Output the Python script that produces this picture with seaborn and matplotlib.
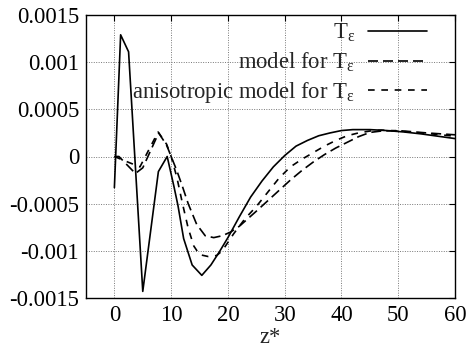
import matplotlib
matplotlib.use("Agg")
import matplotlib.pyplot as plt
import seaborn as sns
import numpy as np
from matplotlib.ticker import FixedLocator, FuncFormatter

# ---- data ----
z_T = [0, 1.1, 2.5, 5.0, 7.75, 9.3, 10.5, 11.2, 12.2, 13.7, 15.4, 17.0, 18.5, 20, 22, 24, 26, 28,
       30, 32, 34, 36, 38, 40, 42, 45, 48, 51, 54, 57, 60]
T_eps = [-0.33, 1.29, 1.11, -1.43, -0.16, 0.0, -0.32, -0.52, -0.87, -1.15, -1.26, -1.15, -1.01,
         -0.86, -0.64, -0.43, -0.26, -0.11, 0.01, 0.11, 0.17, 0.22, 0.25, 0.275, 0.285, 0.285,
         0.275, 0.26, 0.24, 0.215, 0.19]

z_M = [0, 0.8, 3.7, 5.0, 7.8, 9.2, 10, 11, 12, 13, 14.5, 16, 17.5, 19, 20.5, 22, 23.5, 25, 27,
       29, 31, 33, 35, 37, 39, 41, 43, 45, 47, 50, 55, 60]
model = [0, 0, -0.18, -0.12, 0.25, 0.12, 0.0, -0.15, -0.32, -0.50, -0.72, -0.84, -0.86, -0.84,
         -0.80, -0.74, -0.66, -0.58, -0.47, -0.36, -0.25, -0.15, -0.06, 0.02, 0.09, 0.15, 0.21,
         0.255, 0.27, 0.275, 0.25, 0.23]

z_A = [0, 2, 4.5, 7.7, 9.2, 10, 11, 12, 13, 14, 15, 16.5, 18, 19, 21, 23, 25, 27, 29, 31, 33,
       35, 37, 39, 41, 43, 45, 47, 50, 55, 60]
aniso = [0, -0.05, -0.11, 0.26, 0.13, 0.0, -0.22, -0.50, -0.76, -0.95, -1.04, -1.06, -1.05,
         -1.0, -0.82, -0.66, -0.53, -0.38, -0.23, -0.11, -0.03, 0.04, 0.11, 0.17, 0.22, 0.25,
         0.27, 0.28, 0.27, 0.245, 0.215]

labels = [r"$\mathrm{T_{ε}}$", r"model for $\mathrm{T_{ε}}$", r"anisotropic model for $\mathrm{T_{ε}}$"]
x_ticks = [0, 10, 20, 30, 40, 50, 60]
y_ticks = [-0.0015, -0.001, -0.0005, 0, 0.0005, 0.001, 0.0015]
x_label = "z*"

FS = 16.3

sns.set_style("white")
plt.rcParams["font.family"] = ["Liberation Serif", "DejaVu Serif"]
plt.rcParams["mathtext.fontset"] = "custom"
plt.rcParams["mathtext.rm"] = "Liberation Serif"
plt.rcParams["mathtext.it"] = "Liberation Serif:italic"
plt.rcParams["font.size"] = FS

fig = plt.figure(figsize=(4.75, 3.48), dpi=100)
ax = fig.add_axes([86 / 475, 50 / 348, 369 / 475, 283 / 348])

scale = 1e-3
sns.lineplot(x=z_T, y=np.array(T_eps) * scale, ax=ax, color="black", lw=1.2,
             label=labels[0], sort=False)
sns.lineplot(x=z_M, y=np.array(model) * scale, ax=ax, color="black", lw=1.2,
             label=labels[1], sort=False, dashes=False)
sns.lineplot(x=z_A, y=np.array(aniso) * scale, ax=ax, color="black", lw=1.2,
             label=labels[2], sort=False, dashes=False)
lines = ax.get_lines()
lines[1].set_dashes([6.0, 3.0])
lines[2].set_dashes([4.0, 4.0])

ax.set_xlim(-5, 60)
ax.set_ylim(-0.0015, 0.0015)
ax.xaxis.set_major_locator(FixedLocator(x_ticks))
ax.yaxis.set_major_locator(FixedLocator(y_ticks))
ax.yaxis.set_major_formatter(FuncFormatter(lambda v, p: "%g" % v))
ax.xaxis.set_major_formatter(FuncFormatter(lambda v, p: "%g" % v))
ax.tick_params(direction="in", top=True, right=True, length=4, width=0.8,
               labelsize=FS, colors="black", pad=5)
ax.grid(True, linestyle=(0, (1, 1.5)), color="#777777", lw=0.7)
for s in ax.spines.values():
    s.set_color("black")
    s.set_linewidth(1.0)
ax.set_xlabel(x_label, fontsize=FS, labelpad=1)
ax.set_ylabel("")

leg = ax.legend(loc="upper right", bbox_to_anchor=(0.925, 0.975), frameon=False,
                markerfirst=False, handlelength=2.6, handletextpad=0.6,
                labelspacing=0.28, borderpad=0, borderaxespad=0, fontsize=FS)

fig.savefig("out.png", dpi=100)
